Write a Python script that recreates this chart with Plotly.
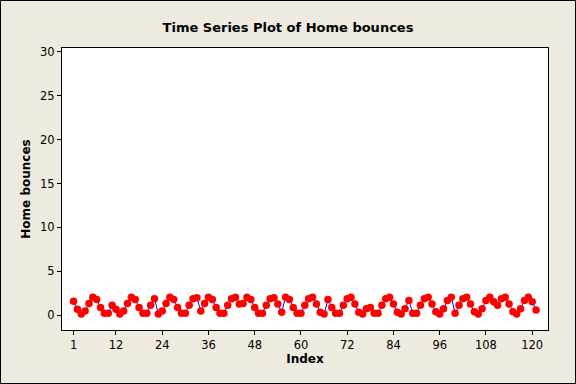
import plotly.graph_objects as go

index = list(range(1, 122))
home_bounces = [
    1.6, 0.7, 0.15, 0.5, 1.35, 2.05, 1.8, 0.9, 0.25, 0.25,
    1.15, 0.7, 0.15, 0.5, 1.35, 2.05, 1.8, 0.9, 0.25, 0.25,
    1.15, 1.9, 0.15, 0.5, 1.35, 2.05, 1.8, 0.9, 0.25, 0.25,
    1.15, 1.9, 2.0, 0.5, 1.35, 2.05, 1.8, 0.9, 0.25, 0.25,
    1.15, 1.9, 2.05, 1.3, 1.35, 2.05, 1.8, 0.9, 0.25, 0.25,
    1.15, 1.9, 2.0, 1.3, 0.35, 2.05, 1.8, 0.9, 0.25, 0.25,
    1.15, 1.9, 2.05, 1.3, 0.35, 0.15, 1.8, 0.9, 0.25, 0.25,
    1.15, 1.9, 2.05, 1.3, 0.35, 0.15, 0.75, 0.9, 0.25, 0.25,
    1.15, 1.9, 2.05, 1.3, 0.35, 0.15, 0.75, 1.7, 0.25, 0.25,
    1.15, 1.9, 2.05, 1.3, 0.4, 0.15, 0.75, 1.7, 2.05, 0.25,
    1.15, 1.9, 2.05, 1.3, 0.4, 0.15, 0.75, 1.7, 2.05, 1.55,
    1.15, 1.9, 2.05, 1.3, 0.4, 0.15, 0.75, 1.7, 2.05, 1.55,
    0.6,
]
x_ticks = [1, 12, 24, 36, 48, 60, 72, 84, 96, 108, 120]
y_ticks = [0, 5, 10, 15, 20, 25, 30]

W, H = 576, 384
ml, mr, mt, mb = 62, 28, 48, 54
pw, ph = W - ml - mr, H - mt - mb

fig = go.Figure()
fig.add_trace(go.Scatter(
    x=index, y=home_bounces, mode="lines+markers",
    line=dict(color="#0000FF", width=1),
    marker=dict(color="#FF0000", size=7.5, line=dict(width=0)),
    showlegend=False,
))

font_family = "DejaVu Sans"
fig.update_layout(
    width=W, height=H,
    margin=dict(l=ml, r=mr, t=mt, b=mb, pad=0),
    paper_bgcolor="#EEEAE0",
    plot_bgcolor="#FFFFFF",
    font=dict(family=font_family, size=12, color="#000000"),
    title=dict(
        text="Time Series Plot of Home bounces",
        font=dict(family=font_family, size=13, weight="bold", color="#000000"),
        x=0.5, xref="container", xanchor="center",
        y=1 - 27 / H, yref="container", yanchor="middle",
    ),
    xaxis=dict(
        range=[-2, 124.1], tickmode="array", tickvals=x_ticks,
        ticks="outside", ticklen=4, tickcolor="#000000", tickwidth=1,
        showline=True, linecolor="#000000", linewidth=1, mirror=True,
        showgrid=False, zeroline=False, automargin=False,
        tickfont=dict(family=font_family, size=11.5),
        title=dict(text="Index", standoff=2,
                   font=dict(family=font_family, size=12, weight="bold")),
    ),
    yaxis=dict(
        range=[-1.67, 30.42], tickmode="array", tickvals=y_ticks,
        ticks="outside", ticklen=4, tickcolor="#000000", tickwidth=1,
        showline=True, linecolor="#000000", linewidth=1, mirror=True,
        showgrid=False, zeroline=False, automargin=False,
        tickfont=dict(family=font_family, size=11.5),
        title=dict(text="Home bounces", standoff=6,
                   font=dict(family=font_family, size=12, weight="bold")),
    ),
    shapes=[dict(
        type="rect", xref="paper", yref="paper",
        x0=(0.5 - ml) / pw, x1=1 + (mr - 0.5) / pw,
        y0=(0.5 - mb) / ph, y1=1 + (mt - 0.5) / ph,
        line=dict(color="#000000", width=1), fillcolor="rgba(0,0,0,0)",
        layer="below",
    )],
)

fig.write_html(
    "out.html",
    config={"displayModeBar": False},
    post_script="document.body.style.margin='0';document.body.style.overflow='hidden';",
)
